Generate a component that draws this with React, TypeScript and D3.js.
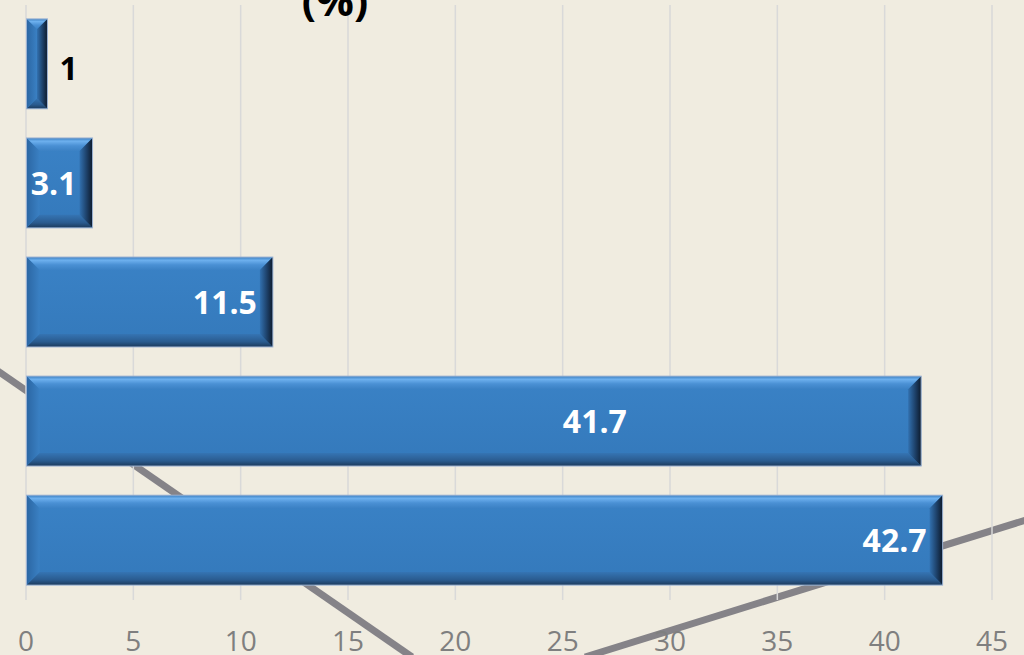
import { useRef, useEffect } from "react";
import * as d3 from "d3";

const categories = ["c1", "c2", "c3", "c4", "c5"];
const values = [1, 3.1, 11.5, 41.7, 42.7];
const xTicks = [0, 5, 10, 15, 20, 25, 30, 35, 40, 45];
const title = "(%)";

const W = 1024;
const H = 655;

export default function App() {
  const svgRef = useRef<SVGSVGElement>(null);

  useEffect(() => {
    if (!svgRef.current) return;
    const svg = d3.select(svgRef.current);
    svg.selectAll("*").remove();

    const x = d3.scaleLinear().domain([0, 45]).range([26, 992]);
    const y = d3.scaleBand().domain(categories).range([4, 600]).paddingInner(0.245).paddingOuter(0.125);

    const defs = svg.append("defs");
    const grad = (id: string, horiz: boolean, stops: [number, string][]) => {
      const g = defs.append("linearGradient").attr("id", id)
        .attr("x1", 0).attr("y1", 0).attr("x2", horiz ? 1 : 0).attr("y2", horiz ? 0 : 1);
      stops.forEach(([o, c]) => g.append("stop").attr("offset", o).attr("stop-color", c));
    };
    grad("face", false, [[0, "#3A82C6"], [1, "#3479BB"]]);
    grad("top", false, [[0, "#3C7FC0"], [0.25, "#6DB0EE"], [0.6, "#4A90D4"], [1, "#3B81C4"]]);
    grad("bottom", false, [[0, "#3574B3"], [0.6, "#2A5B8F"], [1, "#1C3A5B"]]);
    grad("left", true, [[0, "#2B66A3"], [1, "#3A80C3"]]);
    grad("right", true, [[0, "#3271B0"], [0.55, "#1D4068"], [1, "#0D1A2B"]]);

    svg.append("rect").attr("width", W).attr("height", H).attr("fill", "#F0ECE0");

    // decorative background strokes
    const deco = svg.append("g").attr("stroke", "#858388").attr("stroke-width", 7).attr("fill", "none");
    deco.append("line").attr("x1", -2).attr("y1", 371).attr("x2", 412).attr("y2", 657);
    deco.append("line").attr("x1", 585).attr("y1", 657).attr("x2", 1026).attr("y2", 520);

    // gridlines
    svg.append("g").selectAll("line").data(xTicks).join("line")
      .attr("x1", d => x(d)).attr("x2", d => x(d))
      .attr("y1", 5).attr("y2", 600)
      .attr("stroke", "#D9D9D9").attr("stroke-width", 1.5);

    // tick labels
    svg.append("g").selectAll("text").data(xTicks).join("text")
      .attr("x", d => x(d)).attr("y", 651)
      .attr("text-anchor", "middle")
      .attr("font-family", "'Open Sans', sans-serif")
      .attr("font-size", 28)
      .attr("fill", "#7F7F7F")
      .text(d => d);

    // bars with bevel
    const bars = svg.append("g");
    values.forEach((v, i) => {
      const x0 = x(0) + 0.5;
      const x1 = x(v);
      const y0 = y(categories[i])!;
      const y1 = y0 + y.bandwidth();
      const b = Math.min(13, (x1 - x0) / 2, (y1 - y0) / 2);
      const g = bars.append("g");
      g.append("rect").attr("x", x0).attr("y", y0).attr("width", x1 - x0).attr("height", y1 - y0)
        .attr("fill", "url(#face)");
      const poly = (pts: number[][], fill: string) =>
        g.append("polygon").attr("points", pts.map(p => p.join(",")).join(" ")).attr("fill", fill);
      poly([[x0, y0], [x1, y0], [x1 - b, y0 + b], [x0 + b, y0 + b]], "url(#top)");
      poly([[x0, y1], [x1, y1], [x1 - b, y1 - b], [x0 + b, y1 - b]], "url(#bottom)");
      poly([[x0, y0], [x0 + b, y0 + b], [x0 + b, y1 - b], [x0, y1]], "url(#left)");
      poly([[x1, y0], [x1 - b, y0 + b], [x1 - b, y1 - b], [x1, y1]], "url(#right)");
      g.append("rect").attr("x", x0).attr("y", y0).attr("width", x1 - x0).attr("height", y1 - y0)
        .attr("fill", "none").attr("stroke", "#9DB3D3").attr("stroke-width", 1);
    });

    // data labels
    const labelPos = (v: number, i: number) => {
      if (x(v) - x(0) < 40) return { x: x(v) + 12, dy: 16, anchor: "start", fill: "#000000" };
      if (i === 3) return { x: x(26.5), dy: 12, anchor: "middle", fill: "#FFFFFF" };
      return { x: x(v) - 16, dy: 12, anchor: "end", fill: "#FFFFFF" };
    };
    svg.append("g").selectAll("text").data(values).join("text")
      .each(function (v, i) {
        const p = labelPos(v, i);
        d3.select(this)
          .attr("x", p.x)
          .attr("y", y(categories[i])! + y.bandwidth() / 2 + p.dy)
          .attr("text-anchor", p.anchor)
          .attr("fill", p.fill);
      })
      .attr("font-family", "'Open Sans', sans-serif")
      .attr("font-weight", "bold")
      .attr("font-size", 32)
      .text(d => d);

    svg.append("text")
      .attr("x", 335).attr("y", 16)
      .attr("text-anchor", "middle")
      .attr("font-family", "'Open Sans', sans-serif")
      .attr("font-weight", "bold")
      .attr("font-size", 42)
      .attr("fill", "#000000")
      .text(title);
  }, []);

  return (
    <div style={{ position: "absolute", left: 0, top: 0 }}>
      <svg ref={svgRef} width={W} height={H} style={{ display: "block" }}></svg>
    </div>
  );
}
